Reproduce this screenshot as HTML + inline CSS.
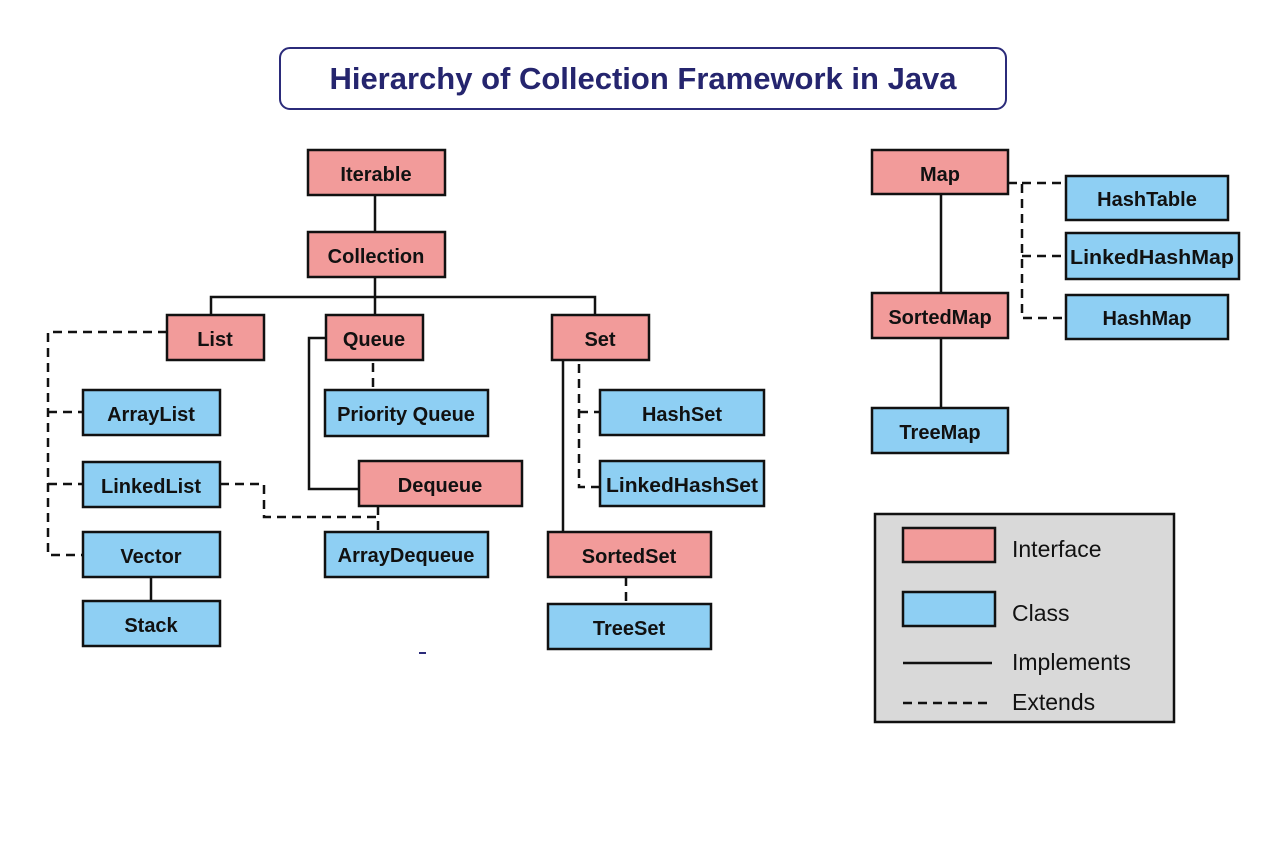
<!DOCTYPE html>
<html><head><meta charset="utf-8"><style>
html,body{margin:0;padding:0;background:#fff;}
svg{display:block;}
text{font-family:"Liberation Sans",sans-serif;font-weight:bold;}
</style></head><body>
<svg width="1288" height="845" viewBox="0 0 1288 845" xmlns="http://www.w3.org/2000/svg">
<rect x="280" y="48" width="726" height="61" rx="10" fill="#fff" stroke="#2b2b7a" stroke-width="2"/>
<text x="643" y="89" text-anchor="middle" font-size="31" fill="#25256e">Hierarchy of Collection Framework in Java</text>

<g stroke="#111" stroke-width="2.5" fill="none">
<path d="M375 195V232M375 277V297M211 315V297H595V315M375 297V315"/>
<path d="M326 338H309V489H359"/>
<path d="M151 577V601"/>
<path d="M563 360V532"/>
<path d="M941 194V293M941 338V408"/>
</g>
<g stroke="#111" stroke-width="2.5" fill="none" stroke-dasharray="9,6">
<path d="M167 332H48V555H83M48 412H83M48 484H83"/>
<path d="M373 363V390"/>
<path d="M220 484H264V517H378V532M378 506V517"/>
<path d="M579 364V487H600M579 412H600"/>
<path d="M626 577V604"/>
<path d="M1008 183H1022V318H1066M1022 183H1066M1022 256H1066"/>
</g>

<g stroke="#111" stroke-width="2.5">
<g fill="#f29b9a">
<rect x="308" y="150" width="137" height="45"/>
<rect x="308" y="232" width="137" height="45"/>
<rect x="167" y="315" width="97" height="45"/>
<rect x="326" y="315" width="97" height="45"/>
<rect x="552" y="315" width="97" height="45"/>
<rect x="359" y="461" width="163" height="45"/>
<rect x="548" y="532" width="163" height="45"/>
<rect x="872" y="150" width="136" height="44"/>
<rect x="872" y="293" width="136" height="45"/>
</g>
<g fill="#8ecff3">
<rect x="83" y="390" width="137" height="45"/>
<rect x="325" y="390" width="163" height="46"/>
<rect x="83" y="462" width="137" height="45"/>
<rect x="83" y="532" width="137" height="45"/>
<rect x="325" y="532" width="163" height="45"/>
<rect x="83" y="601" width="137" height="45"/>
<rect x="600" y="390" width="164" height="45"/>
<rect x="600" y="461" width="164" height="45"/>
<rect x="548" y="604" width="163" height="45"/>
<rect x="1066" y="176" width="162" height="44"/>
<rect x="1066" y="233" width="173" height="46"/>
<rect x="1066" y="295" width="162" height="44"/>
<rect x="872" y="408" width="136" height="45"/>
</g>
<rect x="875" y="514" width="299" height="208" fill="#d9d9d9"/>
<rect x="903" y="528" width="92" height="34" fill="#f29b9a"/>
<rect x="903" y="592" width="92" height="34" fill="#8ecff3"/>
</g>
<path d="M903 663H992" stroke="#111" stroke-width="2.5"/>
<path d="M903 703H992" stroke="#111" stroke-width="2.5" stroke-dasharray="9,6"/>

<g font-size="20" fill="#111" text-anchor="middle">
<text x="376" y="181">Iterable</text>
<text x="376" y="263">Collection</text>
<text x="215" y="346">List</text>
<text x="374" y="346">Queue</text>
<text x="600" y="346">Set</text>
<text x="151" y="421">ArrayList</text>
<text x="406" y="421">Priority Queue</text>
<text x="151" y="493">LinkedList</text>
<text x="440" y="492">Dequeue</text>
<text x="151" y="563">Vector</text>
<text x="406" y="562">ArrayDequeue</text>
<text x="151" y="632">Stack</text>
<text x="682" y="421">HashSet</text>
<text x="682" y="492" textLength="152" lengthAdjust="spacingAndGlyphs">LinkedHashSet</text>
<text x="629" y="563">SortedSet</text>
<text x="629" y="635">TreeSet</text>
<text x="940" y="181">Map</text>
<text x="1147" y="206">HashTable</text>
<text x="1152" y="264" textLength="164" lengthAdjust="spacingAndGlyphs">LinkedHashMap</text>
<text x="1147" y="325">HashMap</text>
<text x="940" y="324">SortedMap</text>
<text x="940" y="439">TreeMap</text>
</g>
<g font-size="23" fill="#111">
<text x="1012" y="557" style="font-weight:normal">Interface</text>
<text x="1012" y="621" style="font-weight:normal">Class</text>
<text x="1012" y="670" style="font-weight:normal">Implements</text>
<text x="1012" y="710" style="font-weight:normal">Extends</text>
</g>
<rect x="419" y="652" width="7" height="2" fill="#2b2b7a"/>
</svg>
</body></html>
